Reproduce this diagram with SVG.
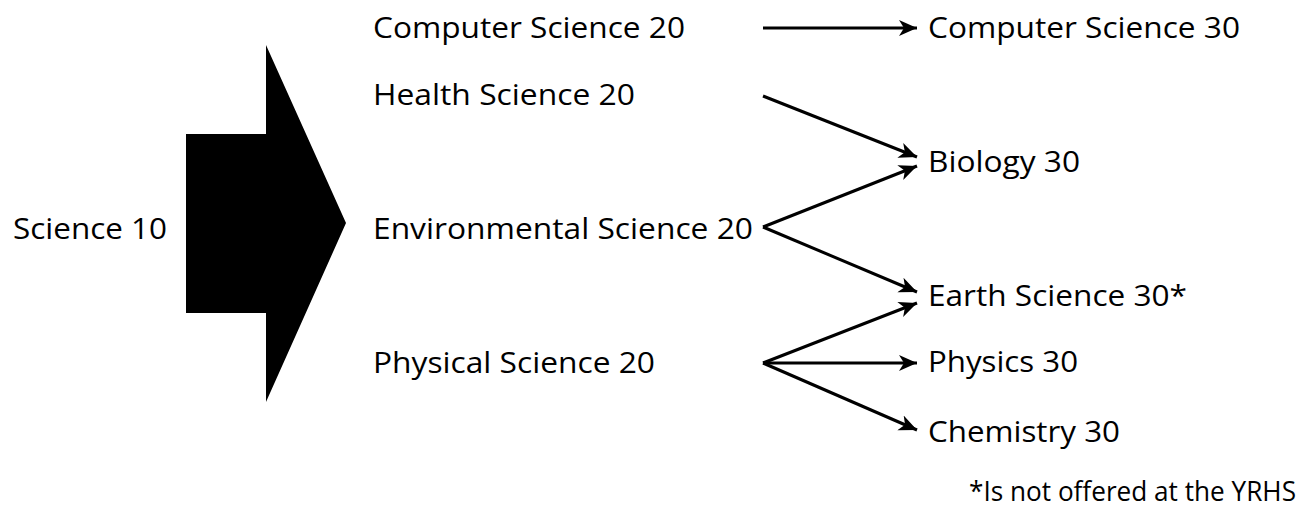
<svg xmlns="http://www.w3.org/2000/svg" width="1304" height="514" viewBox="0 0 1304 514">
<defs>
<style>
text{font-family:"Open Sans","Noto Sans",sans-serif;font-size:29px;fill:#000}
.note{font-size:27px}
.c{stroke:#000;stroke-width:3;fill:none}
</style>
<marker id="ah" markerUnits="userSpaceOnUse" markerWidth="24" markerHeight="20" refX="18" refY="8" orient="auto" viewBox="0 0 24 16">
<path d="M0,0 L18,8 L0,16 L5,8 Z" fill="#000"/>
</marker>
</defs>
<rect width="1304" height="514" fill="#fff"/>
<g id="science10"><text x="13" y="239" textLength="154" lengthAdjust="spacingAndGlyphs">Science 10</text></g>
<g id="bigarrow"><polygon points="186,134 266,134 266,45 346,223 266,402 266,313 186,313" fill="#000"/></g>
<g id="cs20"><text x="373" y="38" textLength="312" lengthAdjust="spacingAndGlyphs">Computer Science 20</text></g>
<g id="hs20"><text x="373" y="105" textLength="262" lengthAdjust="spacingAndGlyphs">Health Science 20</text></g>
<g id="es20"><text x="373" y="239" textLength="380" lengthAdjust="spacingAndGlyphs">Environmental Science 20</text></g>
<g id="ps20"><text x="373" y="373" textLength="282" lengthAdjust="spacingAndGlyphs">Physical Science 20</text></g>
<g id="cs30"><text x="928" y="38" textLength="312" lengthAdjust="spacingAndGlyphs">Computer Science 30</text></g>
<g id="bio30"><text x="928" y="172" textLength="152" lengthAdjust="spacingAndGlyphs">Biology 30</text></g>
<g id="earth30"><text x="928" y="306" textLength="259" lengthAdjust="spacingAndGlyphs">Earth Science 30*</text></g>
<g id="phys30"><text x="928" y="372" textLength="150" lengthAdjust="spacingAndGlyphs">Physics 30</text></g>
<g id="chem30"><text x="928" y="442" textLength="192" lengthAdjust="spacingAndGlyphs">Chemistry 30</text></g>
<g id="note"><text class="note" x="969" y="501" textLength="327" lengthAdjust="spacingAndGlyphs">*Is not offered at the YRHS</text></g>
<g id="connectors" class="c">
<line x1="763" y1="28" x2="917" y2="28" marker-end="url(#ah)"/>
<line x1="763" y1="96" x2="917" y2="157" marker-end="url(#ah)"/>
<line x1="763" y1="227" x2="917" y2="166" marker-end="url(#ah)"/>
<line x1="763" y1="227" x2="917" y2="292" marker-end="url(#ah)"/>
<line x1="763" y1="363" x2="917" y2="303" marker-end="url(#ah)"/>
<line x1="763" y1="363" x2="917" y2="363" marker-end="url(#ah)"/>
<line x1="763" y1="363" x2="917" y2="430" marker-end="url(#ah)"/>
</g>
</svg>
